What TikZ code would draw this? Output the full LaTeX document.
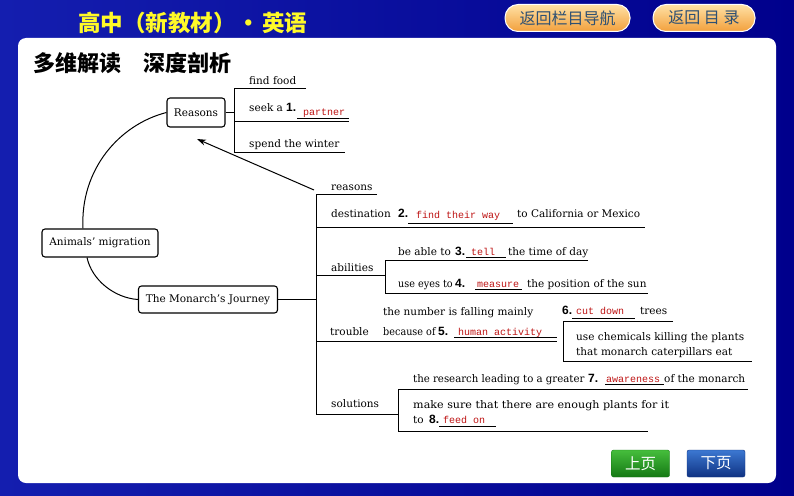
\documentclass[tikz,border=0pt]{standalone}
\usepackage{fontspec}
\usepackage{graphicx}
\setmainfont{DejaVu Serif}
\newfontfamily\cjk{Noto Sans CJK SC}
\newfontfamily\monof{Liberation Mono}
\newfontfamily\numf{Liberation Sans}
\usetikzlibrary{arrows.meta}
\newcommand\sqzx[2]{\scalebox{#1}[1]{#2}}
\definecolor{bgA}{RGB}{20,30,175}
\definecolor{bgB}{RGB}{0,0,140}
\definecolor{ansred}{RGB}{190,20,20}
\definecolor{ttl}{RGB}{255,250,40}
\definecolor{btxt}{RGB}{45,80,115}
\definecolor{orA}{RGB}{255,225,165}
\definecolor{orB}{RGB}{242,160,60}
\definecolor{grA}{RGB}{70,190,60}
\definecolor{grB}{RGB}{20,120,20}
\definecolor{blA}{RGB}{60,120,210}
\definecolor{blB}{RGB}{15,50,130}
\tikzset{
 mbox/.style={draw, rounded corners=3pt, line width=1.1pt, inner sep=2pt, font=\fontsize{10.5}{12}\selectfont, fill=white},
 tx/.style={anchor=base west, inner sep=0pt, font=\fontsize{10.5}{12}\selectfont},
 an/.style={anchor=base west, inner sep=0pt, text=ansred, font=\monof\fontsize{10}{12}\selectfont},
 nm/.style={anchor=base west, inner sep=0pt, font=\numf\bfseries\fontsize{12}{14}\selectfont},
 ln/.style={line width=1pt},
 bl/.style={line width=0.8pt},
 pill/.style={rounded corners=13pt, top color=orA, bottom color=orB, draw=white, line width=1pt, minimum height=27pt, text=btxt, font=\cjk\fontsize{16}{18}\selectfont, inner sep=0pt},
 pgbtn/.style={minimum width=58pt, minimum height=27pt, text=white, font=\cjk\fontsize{15.5}{17}\selectfont, inner sep=0pt, rounded corners=2pt}
}
\begin{document}
\begin{tikzpicture}[x=1pt,y=-1pt]
\useasboundingbox (0,0) rectangle (794,495);
% background
\fill[left color=bgA, right color=bgB] (0,0) rectangle (794,495);
\fill[white, rounded corners=8pt] (18,38) rectangle (776,483);
% header
\node[anchor=west, text=ttl, font=\cjk\bfseries\fontsize{22.5}{24}\selectfont, inner sep=0pt] (title) at (78,23) {高中（新教材）\hspace{2pt}·\hspace{2pt}英语};
\node[pill, minimum width=125pt] (nav) at (567.5,18) {返回栏目导航};
\node[pill, minimum width=102pt] (toc) at (704,18) {返回 目 录};
\node[anchor=west, font=\cjk\bfseries\fontsize{22}{24}\selectfont, inner sep=0pt] (head) at (33,63) {多维解读　深度剖析};
% page buttons
\node[pgbtn, top color=grA, bottom color=grB, draw=grB] (prev) at (640.5,463.5) {上页};
\node[pgbtn, top color=blA, bottom color=blB, draw=blB] (next) at (716,463.5) {下页};
% main boxes
\node[mbox, minimum width=116pt, minimum height=28pt] (am) at (100,243) {Animals’ migration};
\node[mbox, minimum width=58pt, minimum height=29pt] (re) at (196,112.5) {Reasons};
\node[mbox, minimum width=139pt, minimum height=27pt] (mj) at (208,299.5) {The Monarch’s Journey};
\draw[ln] ([xshift=-17pt]am.north) .. controls +(-3,-59) and +(-47,12) .. (re.west);
\draw[ln] ([xshift=-13pt]am.south) .. controls +(5,23) and +(-23,-1.5) .. (mj.west);
% reasons branch
\draw[ln] (re.east) -- (234,112.5);
\draw[ln] (306,88) -- (234,88) -- (234,152) -- (345,152);
\draw[ln] (234,121) -- (349,121);
\draw[bl] (297,118) -- (349,118);
\node[tx] (r1) at (249,84) {find food};
\node[tx] (r2) at (249,111) {seek a};
\node[nm] (n1) at (286,111) {1.};
\node[an] (a1) at (303,115) {partner};
\node[tx] (r3) at (249,147) {spend the winter};
% arrow
\coordinate (as) at (314,190);
\coordinate (ae) at (197,139);
\draw[ln, -{Stealth[length=9pt,width=6pt]}] (as) -- (ae);
% monarch branch
\draw[ln] (mj.east) -- (316,299.5);
\draw[ln] (377,194) -- (316,194) -- (316,414) -- (398,414);
\draw[ln] (316,227) -- (645,227);
\draw[ln] (316,275) -- (385,275);
\draw[ln] (588,260) -- (385,260) -- (385,293) -- (648,293);
\draw[ln] (316,341) -- (557,341);
\draw[ln] (673,321) -- (563,321) -- (563,361) -- (752,361);
\draw[ln] (748,389) -- (398,389) -- (398,431) -- (648,431);
% blanks
\draw[bl] (408,223) -- (513,223);
\draw[bl] (466,257) -- (506,257);
\draw[bl] (475,289) -- (522,289);
\draw[bl] (454,337) -- (557,337);
\draw[bl] (572,318) -- (635,318);
\draw[bl] (605,384) -- (664,384);
\draw[bl] (439,426) -- (496,426);
% texts
\node[tx] (m1) at (331,190) {reasons};
\node[tx] (m2) at (331,217) {destination};
\node[nm] (n2) at (398,217) {2.};
\node[an] (a2) at (416,218) {find their way};
\node[tx] (m2b) at (517,217) {to California or Mexico};
\node[tx] (m3) at (331,271) {abilities};
\node[tx] (m3a) at (398,255) {be able to};
\node[nm] (n3) at (455,255) {3.};
\node[an] (a3) at (471,255) {tell};
\node[tx] (m3b) at (508,255) {the time of day};
\node[tx] (m3c) at (398,287) {\sqzx{0.92}{use eyes to}};
\node[nm] (n4) at (455,287) {4.};
\node[an] (a4) at (477,287) {measure};
\node[tx] (m3d) at (527,287) {the position of the sun};
\node[tx] (m4) at (330,335) {trouble};
\node[tx] (m4a) at (383,315) {the number is falling mainly};
\node[tx] (m4b) at (383,335) {\sqzx{0.92}{because of}};
\node[nm] (n5) at (438,335) {5.};
\node[an] (a5) at (458,335) {human activity};
\node[nm] (n6) at (562,314) {6.};
\node[an] (a6) at (576,314) {cut down};
\node[tx] (m4c) at (640,314) {trees};
\node[tx] (m4d) at (576,340) {use chemicals killing the plants};
\node[tx] (m4e) at (576,355) {that monarch caterpillars eat};
\node[tx] (m5a) at (413,382) {\sqzx{0.97}{the research leading to a greater}};
\node[nm] (n7) at (588,382) {7.};
\node[an] (a7) at (606,382) {awareness};
\node[tx] (m5b) at (664,382) {of the monarch};
\node[tx] (m5) at (331,407) {solutions};
\node[tx] (m5c) at (413,408) {\sqzx{1.06}{make sure that there are enough plants for it}};
\node[tx] (m5d) at (413,423) {to};
\node[nm] (n8) at (429,423) {8.};
\node[an] (a8) at (443,423) {feed on};
\end{tikzpicture}
\end{document}
